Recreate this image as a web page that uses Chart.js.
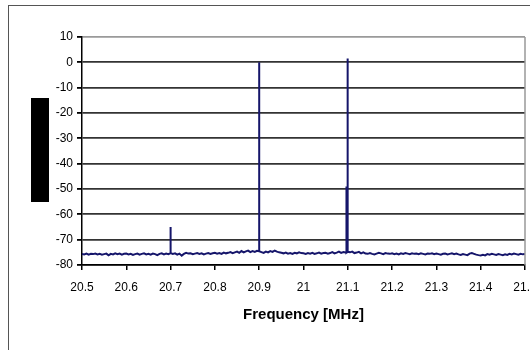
<!DOCTYPE html>
<html lang="en">
<head>
<meta charset="UTF-8">
<title>Spectrum</title>
<script src="https://cdn.jsdelivr.net/npm/chart.js"></script>
<style>
  html, body { margin: 0; padding: 0; background: #fff; overflow: hidden; }
  .janela { position: relative; width: 530px; height: 350px; overflow: hidden; }
  .moldura { position: absolute; left: 8px; top: 5px; width: 600px; height: 400px; border: 1px solid #555; }
  #grafico { position: absolute; left: 0; top: 0; }
</style>
</head>
<body>
<div class="janela">
  <div class="moldura"></div>
  <canvas id="grafico" width="560" height="350"></canvas>
</div>

<script>
// noise floor, one sample every 0.005 MHz from 20.5 MHz
const freqStart = 20.5;
const freqStep = 0.005;
const noiseLevels = [
  -75.6,-75.8,-75.5,-75.9,-75.6,-75.7,-75.5,-75.8,-75.6,-75.9,
  -75.7,-75.5,-76.2,-75.6,-75.8,-75.4,-75.7,-75.5,-75.9,-75.6,
  -75.5,-75.8,-75.6,-76.0,-75.7,-75.5,-75.9,-75.6,-75.4,-75.8,
  -75.6,-75.9,-75.5,-75.7,-76.1,-75.6,-75.4,-75.8,-75.5,-75.7,
  -75.3,-75.6,-75.4,-75.9,-75.5,-76.3,-75.6,-75.2,-75.5,-75.4,
  -75.7,-75.5,-75.3,-75.6,-75.4,-75.8,-75.5,-75.3,-75.6,-75.4,
  -75.2,-75.5,-75.3,-75.6,-75.1,-75.4,-75.2,-74.9,-75.3,-75.0,
  -74.7,-75.2,-74.5,-75.0,-74.6,-74.3,-74.9,-74.5,-74.8,-74.4,
  -74.6,-74.9,-75.2,-74.7,-75.0,-74.5,-74.8,-74.3,-74.7,-75.0,
  -75.2,-75.4,-75.1,-75.5,-75.3,-75.6,-75.2,-75.4,-75.0,-75.3,
  -75.4,-75.6,-75.3,-75.5,-75.2,-75.6,-75.4,-75.1,-75.5,-75.3,
  -75.2,-75.5,-75.3,-74.9,-75.4,-75.1,-74.7,-75.2,-74.9,-75.1,
  -74.8,-75.0,-74.7,-75.3,-75.1,-74.8,-75.4,-75.0,-75.5,-75.6,
  -75.3,-75.6,-75.8,-75.5,-75.2,-75.4,-75.7,-75.3,-75.5,-75.6,
  -75.4,-75.7,-75.5,-75.8,-75.4,-75.6,-75.3,-75.5,-75.7,-75.4,
  -75.6,-75.5,-75.7,-75.4,-75.6,-75.8,-75.5,-75.6,-75.4,-75.7,
  -75.5,-75.7,-75.9,-75.6,-75.5,-75.8,-75.6,-75.4,-75.7,-75.5,
  -75.8,-76.0,-75.7,-75.9,-76.1,-75.5,-75.3,-75.6,-75.9,-76.1,
  -76.2,-76.0,-76.2,-75.7,-75.9,-75.6,-75.8,-76.0,-75.7,-75.9,
  -76.1,-75.8,-76.0,-75.6,-75.8,-75.5,-75.7,-75.9,-75.6,-75.8,
  -75.7
];

// carriers / spurs
const spikeFreqs = [20.7, 20.9, 21.097, 21.099, 21.1];
const spikeLevels = [-65, 0, -49, -49, 1.5];

const xTicks = [20.5, 20.6, 20.7, 20.8, 20.9, 21, 21.1, 21.2, 21.3, 21.4, 21.5];
const xTickLabels = ['20.5', '20.6', '20.7', '20.8', '20.9', '21', '21.1', '21.2', '21.3', '21.4', '21.5'];
const yTicks = [10, 0, -10, -20, -30, -40, -50, -60, -70, -80];

const pontos = [];
noiseLevels.forEach(function (v, i) {
    pontos.push({ x: +(freqStart + i * freqStep).toFixed(3), y: v });
});
spikeFreqs.forEach(function (f, i) {
    var idx = Math.round((f - freqStart) / freqStep);
    var base = noiseLevels[idx];
    pontos.push({ x: f, y: base }, { x: f, y: spikeLevels[i] }, { x: f, y: base });
});
pontos.sort(function (a, b) { return a.x - b.x; }); // stable

// plot frame (gray right side) + the black block left of the axis
const molduraPlot = {
    id: 'molduraPlot',
    afterDraw(chart) {
        const a = chart.chartArea;
        const ctx = chart.ctx;
        ctx.save();
        ctx.strokeStyle = '#999';
        ctx.lineWidth = 1.5;
        ctx.beginPath();
        ctx.moveTo(a.right, a.top);
        ctx.lineTo(a.right, a.bottom);
        ctx.stroke();
        ctx.fillStyle = '#000';
        ctx.fillRect(a.left - 51, a.top + 61, 18, 104);
        ctx.restore();
    }
};

const config = {
    type: 'line',
    data: {
        datasets: [{
            data: pontos,
            borderColor: '#15156a',
            borderWidth: 2,
            pointRadius: 0,
            tension: 0,
            fill: false
        }]
    },
    options: {
        responsive: false,
        animation: false,
        devicePixelRatio: 1,
        layout: { padding: { left: 0, top: 37, right: 35, bottom: 0 } },
        plugins: { legend: { display: false }, tooltip: { enabled: false } },
        scales: {
            x: {
                type: 'linear',
                min: 20.5,
                max: 21.5,
                afterBuildTicks: function (s) { s.ticks = xTicks.map(function (v) { return { value: v }; }); },
                afterFit: function (s) { s.height = 85; },
                ticks: {
                    autoSkip: false,
                    maxRotation: 0,
                    padding: 10,
                    color: '#000',
                    font: { family: 'Liberation Sans, Arial', size: 12 },
                    callback: function (v, i) { return xTickLabels[i]; }
                },
                grid: { drawOnChartArea: false, tickLength: 5, tickColor: '#000', lineWidth: 1.5 },
                border: { color: '#000', width: 1.5 },
                title: {
                    display: true,
                    text: 'Frequency [MHz]',
                    color: '#000',
                    font: { family: 'Liberation Sans, Arial', size: 15, weight: 'bold' },
                    padding: { top: 0, bottom: 26 }
                }
            },
            y: {
                min: -80,
                max: 10,
                afterBuildTicks: function (s) { s.ticks = yTicks.map(function (v) { return { value: v }; }); },
                afterFit: function (s) { s.width = 82; },
                ticks: {
                    padding: 4,
                    color: '#000',
                    font: { family: 'Liberation Sans, Arial', size: 12 }
                },
                grid: {
                    color: function (c) { return c.tick && c.tick.value === 10 ? '#9a9a9a' : '#333'; },
                    lineWidth: 1.8,
                    tickLength: 5,
                    tickColor: '#000'
                },
                border: { color: '#000', width: 1.5 }
            }
        }
    },
    plugins: [molduraPlot]
};

const grafico = new Chart(document.getElementById('grafico'), config);
</script>
</body>
</html>
